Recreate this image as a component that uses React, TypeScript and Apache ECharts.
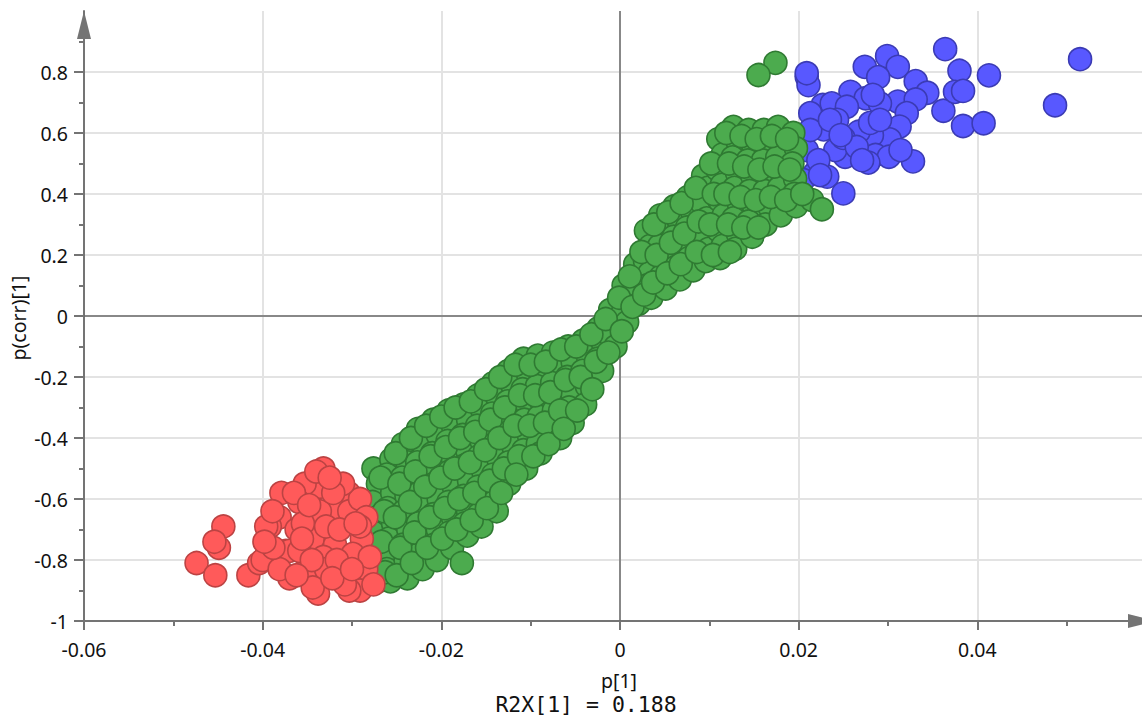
import { useEffect, useRef } from "react";
import * as echarts from "echarts";

const xMajorTicks = [-0.06, -0.04, -0.02, 0, 0.02, 0.04];
const xMinorTicks = [-0.05, -0.03, -0.01, 0.01, 0.03, 0.05];
const yMajorTicks = [-1, -0.8, -0.6, -0.4, -0.2, 0, 0.2, 0.4, 0.6, 0.8];
const yMinorTicks = [-0.9, -0.7, -0.5, -0.3, -0.1, 0.1, 0.3, 0.5, 0.7, 0.9];

const xAxisTitle = "p[1]";
const yAxisTitle = "p(corr)[1]";
const r2xText = "R2X[1] = 0.188";

const bluePoints = [
  [0.0364, 0.875], [0.0515, 0.842], [0.038, 0.804], [0.0413, 0.789], [0.0487, 0.691],
  [0.0362, 0.673], [0.0375, 0.735], [0.0384, 0.738], [0.0384, 0.623], [0.0407, 0.632],
  [0.0328, 0.507], [0.0299, 0.852], [0.0311, 0.817], [0.0274, 0.817], [0.0289, 0.783],
  [0.0331, 0.77], [0.0344, 0.732], [0.0311, 0.703], [0.0331, 0.71], [0.0321, 0.665],
  [0.0258, 0.735], [0.0275, 0.714], [0.0291, 0.697], [0.0209, 0.785], [0.0211, 0.757],
  [0.0227, 0.692], [0.0237, 0.697], [0.0254, 0.686], [0.0313, 0.621], [0.0302, 0.579],
  [0.0282, 0.593], [0.0267, 0.604], [0.0228, 0.612], [0.0286, 0.528], [0.0301, 0.522],
  [0.0278, 0.503], [0.0252, 0.522], [0.0241, 0.544], [0.0209, 0.544], [0.0218, 0.468],
  [0.0232, 0.457], [0.025, 0.402], [0.0213, 0.665], [0.0213, 0.61], [0.0243, 0.643],
  [0.025, 0.584], [0.0222, 0.511], [0.0205, 0.446], [0.0265, 0.554], [0.028, 0.633],
  [0.0209, 0.796], [0.0235, 0.643], [0.0247, 0.593], [0.0271, 0.511], [0.0291, 0.643],
  [0.0314, 0.544], [0.0283, 0.725], [0.0224, 0.462],
];

const greenPoints = [
  [-0.0276, -0.5], [-0.0271, -0.55], [-0.0277, -0.61], [-0.0272, -0.66], [-0.0276, -0.71], [-0.027, -0.76], [-0.0275, -0.81], [-0.0271, -0.87],
  [-0.0256, -0.47], [-0.0261, -0.52], [-0.0255, -0.58], [-0.026, -0.63], [-0.0254, -0.68], [-0.0259, -0.73], [-0.0256, -0.78], [-0.0261, -0.83], [-0.0257, -0.87],
  [-0.0243, -0.42], [-0.0238, -0.48], [-0.0244, -0.53], [-0.0239, -0.59], [-0.0242, -0.64], [-0.0237, -0.7], [-0.0243, -0.75], [-0.024, -0.8], [-0.0238, -0.86],
  [-0.0226, -0.37], [-0.0221, -0.42], [-0.0227, -0.48], [-0.0222, -0.53], [-0.0225, -0.58], [-0.022, -0.63], [-0.0226, -0.68], [-0.0222, -0.73], [-0.0225, -0.78], [-0.0221, -0.83],
  [-0.0209, -0.34], [-0.0204, -0.39], [-0.021, -0.45], [-0.0205, -0.5], [-0.0208, -0.55], [-0.0203, -0.6], [-0.0209, -0.65], [-0.0204, -0.7], [-0.0208, -0.75], [-0.0205, -0.8],
  [-0.0192, -0.31], [-0.0187, -0.36], [-0.0193, -0.41], [-0.0188, -0.46], [-0.0191, -0.51], [-0.0186, -0.56], [-0.0192, -0.61], [-0.0187, -0.66], [-0.0191, -0.71], [-0.0188, -0.76], [-0.0177, -0.81],
  [-0.0175, -0.29], [-0.017, -0.34], [-0.0176, -0.39], [-0.0171, -0.44], [-0.0174, -0.49], [-0.0169, -0.54], [-0.0175, -0.59], [-0.017, -0.64], [-0.0174, -0.68], [-0.0171, -0.72],
  [-0.0159, -0.26], [-0.0154, -0.31], [-0.016, -0.36], [-0.0155, -0.41], [-0.0158, -0.46], [-0.0153, -0.51], [-0.0159, -0.56], [-0.0154, -0.61], [-0.0158, -0.65], [-0.0155, -0.69],
  [-0.0142, -0.22], [-0.0137, -0.27], [-0.0143, -0.32], [-0.0138, -0.37], [-0.0141, -0.42], [-0.0136, -0.47], [-0.0142, -0.52], [-0.0137, -0.57], [-0.0141, -0.61], [-0.0138, -0.64],
  [-0.0125, -0.18], [-0.012, -0.23], [-0.0126, -0.28], [-0.0121, -0.33], [-0.0124, -0.38], [-0.0119, -0.43], [-0.0125, -0.48], [-0.0121, -0.52], [-0.0124, -0.55],
  [-0.0108, -0.14], [-0.0103, -0.19], [-0.0109, -0.24], [-0.0104, -0.29], [-0.0107, -0.34], [-0.0102, -0.39], [-0.0108, -0.44], [-0.0105, -0.5],
  [-0.0092, -0.13], [-0.0087, -0.18], [-0.0093, -0.23], [-0.0088, -0.28], [-0.0091, -0.33], [-0.0086, -0.38], [-0.0092, -0.42], [-0.0089, -0.45],
  [-0.0075, -0.12], [-0.007, -0.17], [-0.0076, -0.22], [-0.0071, -0.27], [-0.0074, -0.31], [-0.0069, -0.36], [-0.0067, -0.4],
  [-0.0058, -0.1], [-0.0053, -0.15], [-0.0059, -0.2], [-0.0054, -0.25], [-0.0057, -0.3], [-0.0053, -0.35],
  [-0.0041, -0.08], [-0.0036, -0.13], [-0.0042, -0.18], [-0.0037, -0.23], [-0.0039, -0.29],
  [-0.0024, -0.04], [-0.0019, -0.09], [-0.0025, -0.14], [-0.002, -0.18],
  [-0.0011, 0.02], [-0.0006, -0.03], [-0.001, -0.07], [-0.0005, -0.1],
  [0.0004, 0.1], [0.0009, 0.05], [0.0003, 0.01], [0.0008, -0.02],
  [0.0017, 0.17], [0.0022, 0.12], [0.0016, 0.08], [0.0021, 0.04],
  [0.0029, 0.28], [0.0034, 0.23], [0.0028, 0.18], [0.0033, 0.14], [0.003, 0.1], [0.0035, 0.06],
  [0.0045, 0.33], [0.005, 0.28], [0.0044, 0.23], [0.0049, 0.18], [0.0046, 0.13], [0.0051, 0.09],
  [0.0061, 0.36], [0.0066, 0.31], [0.006, 0.26], [0.0065, 0.21], [0.0062, 0.16], [0.0067, 0.12],
  [0.0076, 0.39], [0.0081, 0.34], [0.0075, 0.29], [0.008, 0.24], [0.0077, 0.19], [0.0082, 0.15],
  [0.0093, 0.46], [0.0098, 0.42], [0.0092, 0.37], [0.0097, 0.32], [0.0094, 0.27], [0.0099, 0.22], [0.0096, 0.18],
  [0.011, 0.58], [0.0115, 0.53], [0.0109, 0.48], [0.0114, 0.43], [0.0111, 0.38], [0.0116, 0.33], [0.011, 0.28], [0.0115, 0.23], [0.0112, 0.19],
  [0.0127, 0.62], [0.0132, 0.57], [0.0126, 0.52], [0.0131, 0.47], [0.0128, 0.42], [0.0133, 0.37], [0.0127, 0.32], [0.0132, 0.27], [0.0129, 0.22],
  [0.0144, 0.61], [0.0149, 0.56], [0.0143, 0.51], [0.0148, 0.46], [0.0145, 0.41], [0.015, 0.36], [0.0144, 0.31], [0.0148, 0.26],
  [0.0161, 0.61], [0.0166, 0.56], [0.016, 0.51], [0.0165, 0.46], [0.0162, 0.41], [0.0167, 0.36], [0.0163, 0.3],
  [0.0177, 0.62], [0.0182, 0.57], [0.0176, 0.52], [0.0181, 0.47], [0.0178, 0.42], [0.0183, 0.37], [0.018, 0.33],
  [0.0194, 0.6], [0.0197, 0.55], [0.0193, 0.5], [0.0196, 0.45], [0.0195, 0.4], [0.0197, 0.36],
  [0.0215, 0.38], [0.0226, 0.35],
  [0.0174, 0.83], [0.0155, 0.79],
];

const greenInnerPoints = [
  [-0.0268, -0.53], [-0.0264, -0.64], [-0.0267, -0.74], [-0.0263, -0.84],
  [-0.0251, -0.45], [-0.0247, -0.55], [-0.0252, -0.66], [-0.0246, -0.76], [-0.025, -0.85],
  [-0.0234, -0.4], [-0.0229, -0.51], [-0.0235, -0.61], [-0.023, -0.71], [-0.0233, -0.81],
  [-0.0217, -0.36], [-0.0212, -0.46], [-0.0218, -0.56], [-0.0213, -0.66], [-0.0216, -0.76],
  [-0.02, -0.33], [-0.0195, -0.43], [-0.0201, -0.53], [-0.0196, -0.63], [-0.0199, -0.73],
  [-0.0184, -0.3], [-0.0179, -0.4], [-0.0185, -0.5], [-0.018, -0.6], [-0.0183, -0.7],
  [-0.0167, -0.28], [-0.0162, -0.38], [-0.0168, -0.48], [-0.0163, -0.58], [-0.0166, -0.67],
  [-0.015, -0.24], [-0.0145, -0.34], [-0.0151, -0.44], [-0.0146, -0.54], [-0.0149, -0.63],
  [-0.0134, -0.2], [-0.0129, -0.3], [-0.0135, -0.4], [-0.013, -0.5], [-0.0133, -0.58],
  [-0.0117, -0.16], [-0.0112, -0.26], [-0.0118, -0.36], [-0.0113, -0.46], [-0.0116, -0.52],
  [-0.01, -0.16], [-0.0095, -0.26], [-0.0101, -0.36], [-0.0097, -0.46],
  [-0.0083, -0.15], [-0.0078, -0.25], [-0.0084, -0.35], [-0.008, -0.42],
  [-0.0066, -0.11], [-0.0061, -0.21], [-0.0067, -0.31], [-0.0063, -0.37],
  [-0.0049, -0.1], [-0.0044, -0.2], [-0.0048, -0.31],
  [-0.0032, -0.06], [-0.0027, -0.15], [-0.0031, -0.24],
  [-0.0016, -0.01], [-0.0013, -0.12],
  [-0.0001, 0.06], [0.0002, -0.05],
  [0.0011, 0.13], [0.0014, 0.03],
  [0.0024, 0.21], [0.0027, 0.07],
  [0.0038, 0.3], [0.0041, 0.2], [0.0037, 0.11],
  [0.0054, 0.34], [0.0057, 0.24], [0.0053, 0.14],
  [0.0069, 0.37], [0.0072, 0.27], [0.0068, 0.17],
  [0.0085, 0.42], [0.0088, 0.31], [0.0086, 0.21],
  [0.0102, 0.5], [0.0105, 0.4], [0.0101, 0.3], [0.0104, 0.2],
  [0.0119, 0.6], [0.0122, 0.5], [0.0118, 0.4], [0.0121, 0.3], [0.0123, 0.21],
  [0.0136, 0.59], [0.0139, 0.49], [0.0135, 0.39], [0.0138, 0.29],
  [0.0153, 0.58], [0.0156, 0.48], [0.0152, 0.38], [0.0155, 0.29],
  [0.017, 0.59], [0.0173, 0.49], [0.0169, 0.39],
  [0.0187, 0.58], [0.019, 0.48], [0.0186, 0.38],
  [0.0204, 0.4],
];

const redPoints = [
  [-0.0444, -0.69], [-0.0449, -0.76], [-0.0454, -0.74], [-0.0474, -0.81], [-0.0453, -0.85],
  [-0.0416, -0.85], [-0.0404, -0.81], [-0.0338, -0.91], [-0.0379, -0.58], [-0.0381, -0.66],
  [-0.0392, -0.69], [-0.0374, -0.77], [-0.0385, -0.8], [-0.0332, -0.5], [-0.0336, -0.56],
  [-0.0353, -0.55], [-0.0304, -0.58], [-0.0317, -0.64], [-0.0336, -0.64], [-0.0344, -0.73],
  [-0.0319, -0.75], [-0.0289, -0.73], [-0.031, -0.87], [-0.0284, -0.83], [-0.0351, -0.83],
  [-0.037, -0.86], [-0.0291, -0.9], [-0.04, -0.8], [-0.0396, -0.69], [-0.0362, -0.7],
  [-0.0303, -0.64], [-0.0291, -0.6], [-0.0329, -0.69], [-0.0359, -0.61], [-0.037, -0.77],
  [-0.0332, -0.79], [-0.0299, -0.78], [-0.028, -0.79], [-0.0329, -0.83], [-0.0303, -0.9],
  [-0.0344, -0.89], [-0.0276, -0.88], [-0.0381, -0.83], [-0.0284, -0.66], [-0.0355, -0.68],
  [-0.0291, -0.69], [-0.0314, -0.7], [-0.0317, -0.8], [-0.0359, -0.77], [-0.034, -0.51],
  [-0.031, -0.55], [-0.0321, -0.58], [-0.0388, -0.76], [-0.0308, -0.88], [-0.0398, -0.74],
  [-0.0389, -0.64], [-0.0365, -0.58], [-0.0348, -0.62], [-0.0325, -0.53], [-0.0296, -0.68],
  [-0.0345, -0.8], [-0.0322, -0.86], [-0.0362, -0.85], [-0.0356, -0.73], [-0.03, -0.83],
];

export default function App() {
  const ref = useRef<HTMLDivElement>(null);
  useEffect(() => {
    document.body.style.margin = "0";
    const chart = echarts.init(ref.current!, null, { renderer: "svg" });
    const axisColor = "#747474";
    const labelFont = { color: "#111111", fontSize: 19.5, fontFamily: "'Noto Sans', sans-serif" };
    const tickStyle = { color: axisColor, width: 2 };
    const scatterBase = (name: string, data: number[][], fill: string, stroke: string, z: number) => ({
      name,
      type: "scatter",
      data,
      symbol: "circle",
      symbolSize: 23,
      z,
      silent: true,
      itemStyle: { color: fill, borderColor: stroke, borderWidth: 1.6, opacity: 1 },
    });
    chart.setOption({
      animation: false,
      grid: { left: 84, top: 11, width: 1072, height: 610, containLabel: false, outerBoundsMode: "none" },
      xAxis: [
        {
          type: "value", min: -0.06, max: 0.06, interval: 0.02, position: "bottom",
          axisLine: {
            show: true, onZero: false, lineStyle: { color: axisColor, width: 2 },
            symbol: ["none", "triangle"], symbolSize: [14, 28], symbolOffset: [0, -14],
          },
          axisTick: { show: true, customValues: xMajorTicks, length: 9, lineStyle: tickStyle },
          axisLabel: { customValues: xMajorTicks, margin: 18, ...labelFont },
          splitLine: { show: true, lineStyle: { color: "#e3e3e3", width: 2 } },
        },
        {
          type: "value", min: -0.06, max: 0.06, interval: 0.02, position: "bottom",
          axisLine: { show: false, onZero: false },
          axisTick: { show: true, customValues: xMinorTicks, length: 5, lineStyle: tickStyle },
          axisLabel: { show: false },
          splitLine: { show: false },
        },
      ],
      yAxis: [
        {
          type: "value", min: -1, max: 1, interval: 0.2, position: "left",
          axisLine: {
            show: true, onZero: false, lineStyle: { color: axisColor, width: 2 },
            symbol: ["none", "triangle"], symbolSize: [14, 28], symbolOffset: [0, -14],
          },
          axisTick: { show: true, customValues: yMajorTicks, length: 10, lineStyle: tickStyle },
          axisLabel: { customValues: yMajorTicks, margin: 16, ...labelFont },
          splitLine: { show: true, lineStyle: { color: "#e3e3e3", width: 2 } },
        },
        {
          type: "value", min: -1, max: 1, interval: 0.2, position: "left",
          axisLine: { show: false, onZero: false },
          axisTick: { show: true, customValues: yMinorTicks, length: 5, lineStyle: tickStyle },
          axisLabel: { show: false },
          splitLine: { show: false },
        },
      ],
      series: [
        {
          ...scatterBase("blue", bluePoints, "#5858ff", "#3b3bb4", 3),
          markLine: {
            silent: true,
            symbol: "none",
            z: 1,
            label: { show: false },
            lineStyle: { color: "#6a6a6a", width: 1.5, type: "solid" },
            data: [{ xAxis: 0 }, { yAxis: 0 }],
          },
        },
        scatterBase("green", greenPoints, "#4cab4e", "#2f7a32", 4),
        scatterBase("green2", greenInnerPoints, "#4cab4e", "#2f7a32", 4),
        scatterBase("red", redPoints, "#ff5a5a", "#bc4343", 5),
      ],
      graphic: [
        {
          type: "text", x: 18, y: 318, rotation: Math.PI / 2,
          style: {
            text: yAxisTitle, align: "center", verticalAlign: "middle",
            textAlign: "center", textVerticalAlign: "middle",
            fill: "#111111", fontSize: 19.5, fontFamily: "'Noto Sans', sans-serif",
          },
        },
        {
          type: "text", x: 619, y: 680,
          style: {
            text: xAxisTitle, align: "center", verticalAlign: "middle",
            textAlign: "center", textVerticalAlign: "middle",
            fill: "#111111", fontSize: 19.5, fontFamily: "'Noto Sans', sans-serif",
          },
        },
        {
          type: "text", x: 586, y: 704,
          style: {
            text: r2xText, align: "center", verticalAlign: "middle",
            textAlign: "center", textVerticalAlign: "middle",
            fill: "#111111", fontSize: 21.5, fontFamily: "'DejaVu Sans Mono', monospace",
          },
        },
      ],
    });
    return () => chart.dispose();
  }, []);
  return <div ref={ref} style={{ width: 1142, height: 718 }} />;
}
